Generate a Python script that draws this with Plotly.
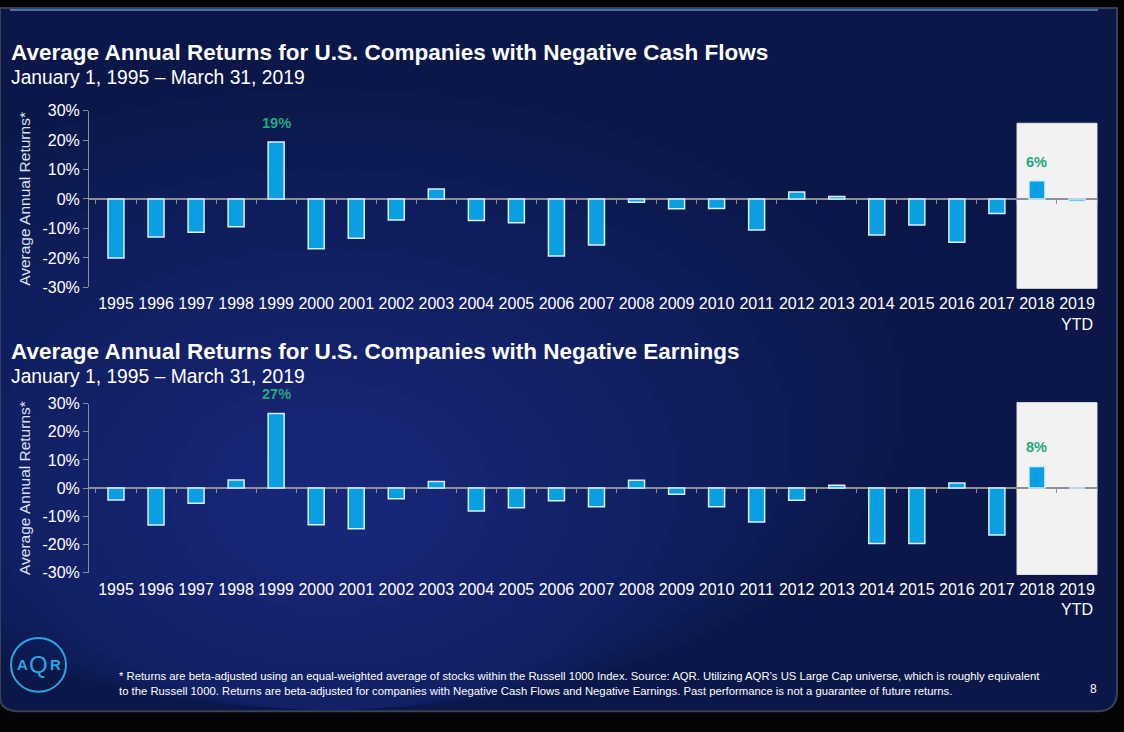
import plotly.graph_objects as go

W, H = 1124, 732

years = [str(y) for y in range(1995, 2020)]
year_labels = years[:-1] + ["2019<br>YTD"]

cash_flow_returns = [-20.0, -12.9, -11.3, -9.4, 19.3, -16.9, -13.3, -7.1, 3.4, -7.3,
                     -8.1, -19.4, -15.6, -1.1, -3.3, -3.2, -10.5, 2.4, 0.8, -12.2,
                     -8.8, -14.7, -4.9, 6.2, -0.8]
earnings_returns = [-4.2, -13.1, -5.4, 2.9, 26.5, -13.0, -14.4, -3.8, 2.3, -8.1,
                    -7.0, -4.5, -6.6, 2.8, -2.2, -6.6, -12.0, -4.3, 1.0, -19.7,
                    -19.7, 1.8, -16.7, 7.7, 0.0]

callout_years = ["1999", "2018"]
cash_flow_callouts = ["19%", "6%"]
earnings_callouts = ["27%", "8%"]

y_ticks = [-30, -20, -10, 0, 10, 20, 30]
y_ticktext = [f"{v}%" for v in y_ticks]

titles = ["Average Annual Returns for U.S. Companies with Negative Cash Flows",
          "Average Annual Returns for U.S. Companies with Negative Earnings"]
subtitle = "January 1, 1995 \u2013 March 31, 2019"
footnote = ("* Returns are beta-adjusted using an equal-weighted average of stocks within the Russell 1000 Index. "
            "Source: AQR. Utilizing AQR\u2019s US Large Cap universe, which is roughly equivalent<br>"
            "to the Russell 1000. Returns are beta-adjusted for companies with Negative Cash Flows and "
            "Negative Earnings. Past performance is not a guarantee of future returns.")

FONT = "Liberation Sans"
NAVY = "#0a1748"
BAR = "#0a9fe2"
GREEN = "#22a97c"
GRAY = "#8a8f99"


def px(x):
    return x / W


def py(y):
    return 1 - y / H


# pixel geometry of the two plot areas
x_dom = [px(89), px(1097)]
dom_top = [py(286), py(105)]
dom_bot = [py(578), py(405)]
x_range = [-0.674, 24.5]

fig = go.Figure()

bar_style = dict(marker=dict(color=BAR, line=dict(color="#d6eefa", width=1.5)),
                 width=0.4, hoverinfo="x+y")
fig.add_trace(go.Bar(x=years, y=cash_flow_returns, xaxis="x", yaxis="y", **bar_style))
fig.add_trace(go.Bar(x=years, y=earnings_returns, xaxis="x2", yaxis="y2", **bar_style))
# invisible traces so the zero-line tick axes get drawn
fig.add_trace(go.Scatter(x=years, y=[0] * len(years), xaxis="x3", yaxis="y", mode="markers",
                         marker=dict(opacity=0), hoverinfo="skip"))
fig.add_trace(go.Scatter(x=years, y=[0] * len(years), xaxis="x4", yaxis="y2", mode="markers",
                         marker=dict(opacity=0), hoverinfo="skip"))

xaxis_style = dict(type="category", categoryorder="array", categoryarray=years,
                   range=x_range, domain=x_dom, showgrid=False, zeroline=False,
                   showline=False, ticks="", tickvals=years, ticktext=year_labels,
                   tickfont=dict(family=FONT, size=16, color="white"),
                   ticklabelstandoff=5, fixedrange=True)
yaxis_style = dict(range=[-30, 30], tickvals=y_ticks, ticktext=y_ticktext,
                   showgrid=False, zeroline=True, zerolinecolor=GRAY, zerolinewidth=1.5,
                   showline=True, linecolor=GRAY, linewidth=1, ticks="outside",
                   ticklen=5, tickcolor=GRAY,
                   tickfont=dict(family=FONT, size=16, color="white"),
                   title=dict(text="Average Annual Returns*", standoff=8,
                              font=dict(family=FONT, size=15.5, color="#dde3ee")),
                   fixedrange=True)
tick_axis = dict(type="category", categoryorder="array", categoryarray=years,
                 range=x_range, domain=x_dom, anchor="free", tickson="boundaries",
                 ticks="outside", ticklen=4, tickcolor=GRAY, showticklabels=False,
                 showgrid=False, zeroline=False, showline=False, fixedrange=True)

fig.update_layout(
    width=W, height=H,
    margin=dict(l=0, r=0, t=0, b=0),
    paper_bgcolor="#050507",
    plot_bgcolor="rgba(0,0,0,0)",
    showlegend=False,
    xaxis=dict(anchor="y", **xaxis_style),
    xaxis2=dict(anchor="y2", **xaxis_style),
    yaxis=dict(anchor="x", domain=dom_top, **yaxis_style),
    yaxis2=dict(anchor="x2", domain=dom_bot, **yaxis_style),
    xaxis3=dict(overlaying="x", position=(dom_top[0] + dom_top[1]) / 2, **tick_axis),
    xaxis4=dict(overlaying="x2", position=(dom_bot[0] + dom_bot[1]) / 2, **tick_axis),
)

shapes = []
# slide background with rounded bottom corners
shapes.append(dict(type="path", xref="paper", yref="paper", layer="below",
                   path=f"M 0 1 L {px(1117)} 1 L {px(1117)} {py(700)} "
                        f"Q {px(1117)} {py(720)} {px(1097)} {py(720)} "
                        f"L {px(20)} {py(720)} Q 0 {py(720)} 0 {py(705)} Z",
                   fillcolor=NAVY, line=dict(color="#3a4150", width=2)))
# soft glow in the lower-left centre
for i in range(14):
    r = 520 - i * 34
    cx, cy = 330, 500
    shapes.append(dict(type="circle", xref="paper", yref="paper", layer="below",
                       x0=px(cx - r * 1.1), x1=px(min(cx + r * 1.1, 1116)),
                       y0=py(min(cy + r * 0.8, 719)), y1=py(cy - r * 0.8),
                       fillcolor="rgba(40,75,175,0.045)", line=dict(width=0)))
# top rule
shapes.append(dict(type="line", xref="paper", yref="paper", layer="below",
                   x0=px(10), x1=px(1098), y0=py(2), y1=py(2),
                   line=dict(color="#3f72b4", width=2)))
# highlight boxes for 2018 / 2019 YTD
shapes.append(dict(type="rect", xref="paper", yref="paper", layer="below",
                   x0=px(1017), x1=px(1097), y0=py(287), y1=py(118),
                   fillcolor="#f2f2f2", line=dict(color="#e0e0e0", width=1)))
shapes.append(dict(type="rect", xref="paper", yref="paper", layer="below",
                   x0=px(1017), x1=px(1097), y0=py(580), y1=py(404),
                   fillcolor="#f2f2f2", line=dict(color="#e0e0e0", width=1)))
# AQR logo ring
shapes.append(dict(type="circle", xref="paper", yref="paper",
                   x0=px(11), x1=px(66), y0=py(700), y1=py(645),
                   line=dict(color="#2aa6e0", width=2)))
fig.update_layout(shapes=shapes)

annotations = []
for i, t in enumerate(titles):
    top = [46, 352][i]
    annotations.append(dict(text=f"<b>{t}</b>", x=px(9), y=py(top), xref="paper", yref="paper",
                            xanchor="left", yanchor="middle", showarrow=False,
                            font=dict(family=FONT, size=22.5, color="white")))
    annotations.append(dict(text=subtitle, x=px(9), y=py(top + 25), xref="paper", yref="paper",
                            xanchor="left", yanchor="middle", showarrow=False,
                            font=dict(family=FONT, size=19.3, color="white")))

for series, labels, xr, yr in [(cash_flow_returns, cash_flow_callouts, "x", "y"),
                               (earnings_returns, earnings_callouts, "x2", "y2")]:
    for yr_label, lab in zip(callout_years, labels):
        idx = years.index(yr_label)
        annotations.append(dict(text=f"<b>{lab}</b>", x=idx, y=series[idx], xref=xr, yref=yr,
                                yanchor="bottom", yshift=9, showarrow=False,
                                font=dict(family=FONT, size=14.5, color=GREEN)))

annotations.append(dict(text=footnote, x=px(117), y=py(692), xref="paper", yref="paper",
                        xanchor="left", yanchor="middle", align="left", showarrow=False,
                        font=dict(family=FONT, size=11.3, color="white")))
annotations.append(dict(text="8", x=px(1093), y=py(697), xref="paper", yref="paper",
                        xanchor="center", yanchor="middle", showarrow=False,
                        font=dict(family=FONT, size=12, color="white")))
for txt, x, size in [("<b>A</b>", 22, 15), ("Q", 38.5, 24), ("<b>R</b>", 55, 15)]:
    annotations.append(dict(text=txt, x=px(x), y=py(672), xref="paper", yref="paper",
                            xanchor="center", yanchor="middle", showarrow=False,
                            font=dict(family=FONT, size=size, color="#2aa6e0")))
fig.update_layout(annotations=annotations)

fig.write_html("out.html", config={"displayModeBar": False},
               post_script="document.body.style.margin = '0';")
